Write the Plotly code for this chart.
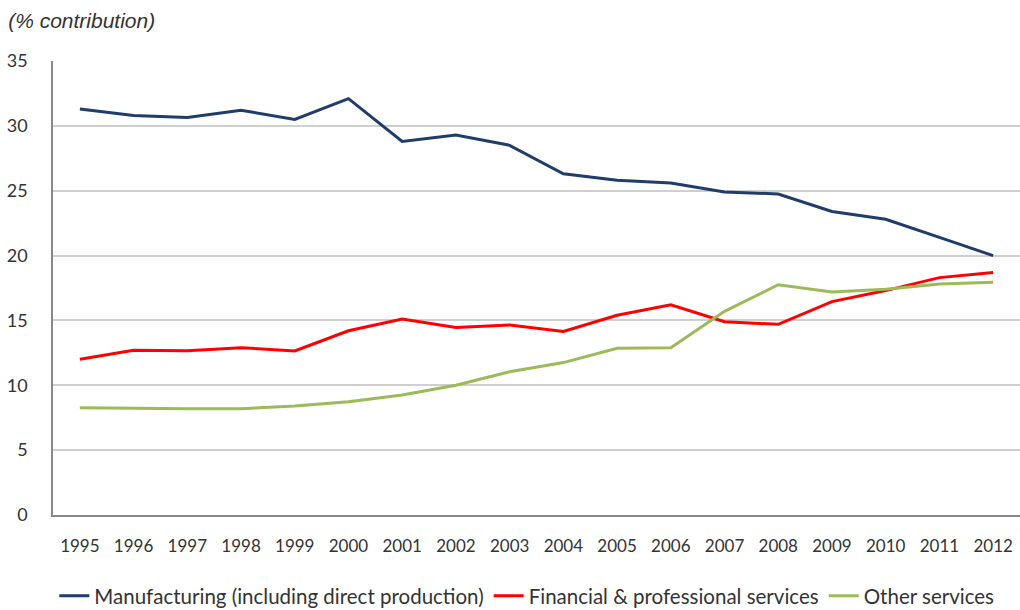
import plotly.graph_objects as go

years = [str(y) for y in range(1995, 2013)]
manufacturing = [31.3, 30.8, 30.65, 31.2, 30.5, 32.1, 28.8, 29.3, 28.5, 26.3, 25.8, 25.6,
                 24.9, 24.75, 23.4, 22.8, 21.4, 20.0]
financial = [12.0, 12.7, 12.67, 12.9, 12.65, 14.2, 15.1, 14.45, 14.65, 14.15, 15.4, 16.2,
             14.9, 14.7, 16.45, 17.3, 18.3, 18.7]
other = [8.27, 8.22, 8.2, 8.2, 8.4, 8.73, 9.25, 10.0, 11.05, 11.75, 12.85, 12.9,
         15.7, 17.75, 17.2, 17.4, 17.8, 17.95]

series_names = ["Manufacturing (including direct production)",
                "Financial & professional services",
                "Other services"]
series_colors = ["#1F3D68", "#FF0000", "#9BBB59"]
y_ticks = [0, 5, 10, 15, 20, 25, 30, 35]

fig = go.Figure()
for name, vals, col in zip(series_names, [manufacturing, financial, other], series_colors):
    fig.add_trace(go.Scatter(x=years, y=vals, mode="lines", name=name,
                             line=dict(color=col, width=3)))

font_family = "Lato, 'Open Sans', sans-serif"
fig.update_layout(
    width=1020, height=610,
    margin=dict(l=53, r=0, t=61, b=95, autoexpand=False),
    paper_bgcolor="white", plot_bgcolor="white",
    title=dict(text="<i>(% contribution)</i>", x=0.008, xanchor="left",
               xref="container", y=1 - 21 / 610, yref="container", yanchor="middle",
               font=dict(family="'Liberation Sans', Arial, sans-serif", size=21, color="#333333")),
    legend=dict(orientation="h", x=0.49, xanchor="center", y=-0.178, yanchor="middle",
                font=dict(family=font_family, size=20.5, color="#333333"),
                itemwidth=30, tracegroupgap=0),
    showlegend=True,
)
fig.update_xaxes(type="category", range=[-0.5, 17.5], showgrid=False,
                 showline=True, linecolor="#888888", linewidth=1.5,
                 ticks="", ticklabelstandoff=15,
                 tickfont=dict(family=font_family, size=17, color="#333333"))
fig.update_yaxes(range=[0, 35], tickvals=y_ticks, showgrid=True, gridcolor="#CFCFCF", gridwidth=1.5,
                 showline=True, linecolor="#888888", linewidth=1.5,
                 zeroline=False, ticks="", ticklabelstandoff=20,
                 tickfont=dict(family=font_family, size=18, color="#333333"))

fig.write_html("out.html")
